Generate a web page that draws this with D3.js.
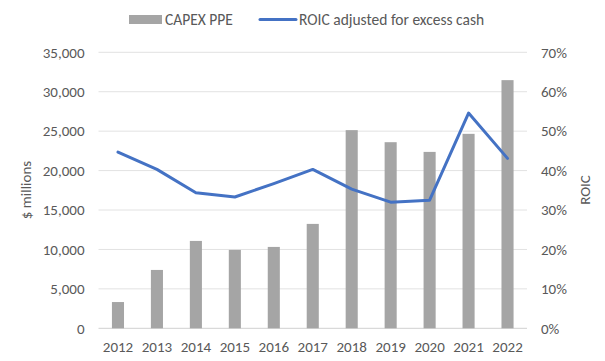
<!DOCTYPE html>
<html><head><meta charset="utf-8">
<script src="https://cdn.jsdelivr.net/npm/d3@7"></script>
<style>body{margin:0;background:#fff}svg{display:block}text{font-family:Calibri,Carlito,Lato,"Open Sans",sans-serif;fill:#595959}</style>
</head><body>
<script>
const years = ["2012","2013","2014","2015","2016","2017","2018","2019","2020","2021","2022"];
const capex = [3330, 7400, 11080, 9940, 10320, 13240, 25130, 23600, 22370, 24660, 31470];
const roic = [44.7, 40.3, 34.4, 33.3, 36.7, 40.3, 35.3, 32.0, 32.5, 54.6, 43.1];
const leftTicks = [0,5000,10000,15000,20000,25000,30000,35000];
const rightTicks = [0,10,20,30,40,50,60,70];

const W=605,H=361, L=98.5, R=527, T=52.3, B=328.3;
const FS="15px";
const svg=d3.select("body").append("svg").attr("width",W).attr("height",H);
const x=d3.scaleBand().domain(years).range([L,R]).paddingInner(0.69).paddingOuter(0.345);
const y=d3.scaleLinear().domain([0,35000]).range([B,T]);
const y2=d3.scaleLinear().domain([0,70]).range([B,T]);

// gridlines
svg.append("g").selectAll("line").data(leftTicks).join("line")
 .attr("x1",L).attr("x2",R).attr("y1",d=>y(d)).attr("y2",d=>y(d))
 .attr("stroke",d=>d===0?"#D0D0D0":"#E2E2E2").attr("stroke-width",1);

const fmt=d3.format(",");
const ga=d3.axisLeft(y).tickValues(leftTicks).tickFormat(fmt).tickSize(0).tickPadding(14);
svg.append("g").attr("transform",`translate(${L},0)`).call(ga)
 .call(g=>g.select(".domain").remove())
 .selectAll("text").style("font-size",FS).attr("fill","#595959").style("font-family",null);
const gb=d3.axisRight(y2).tickValues(rightTicks).tickFormat(d=>d+"%").tickSize(0).tickPadding(14);
svg.append("g").attr("transform",`translate(${R},0)`).call(gb)
 .call(g=>g.select(".domain").remove())
 .selectAll("text").style("font-size",FS).attr("fill","#595959").style("font-family",null);
const gx=d3.axisBottom(x).tickSize(0).tickPadding(13);
svg.append("g").attr("transform",`translate(0,${B})`).call(gx)
 .call(g=>g.select(".domain").remove())
 .selectAll("text").style("font-size",FS).attr("fill","#595959").style("font-family",null);

// bars
svg.append("g").selectAll("rect").data(capex).join("rect")
 .attr("x",(d,i)=>x(years[i])).attr("width",x.bandwidth())
 .attr("y",d=>y(d)).attr("height",d=>B-y(d)).attr("fill","#A5A5A5");

// line
const line=d3.line().x((d,i)=>x(years[i])+x.bandwidth()/2).y(d=>y2(d));
svg.append("path").datum(roic).attr("d",line).attr("fill","none")
 .attr("stroke","#4472C4").attr("stroke-width",3).attr("stroke-linejoin","round").attr("stroke-linecap","round");

// axis titles
svg.append("text").attr("transform","translate(31,190) rotate(-90)").attr("text-anchor","middle")
 .style("font-size",FS).text("$ millions");
svg.append("text").attr("transform","translate(590,190) rotate(-90)").attr("text-anchor","middle")
 .style("font-size",FS).text("ROIC");

// legend
const lg=svg.append("g");
lg.append("rect").attr("x",129).attr("y",15).attr("width",33).attr("height",9).attr("fill","#A5A5A5");
lg.append("text").attr("x",165).attr("y",25).style("font-size","15.5px").text("CAPEX PPE");
lg.append("line").attr("x1",260).attr("x2",296).attr("y1",19.5).attr("y2",19.5).attr("stroke","#4472C4").attr("stroke-width",3).attr("stroke-linecap","round");
lg.append("text").attr("x",299).attr("y",25).style("font-size","15.5px").text("ROIC adjusted for excess cash");
</script>
</body></html>
